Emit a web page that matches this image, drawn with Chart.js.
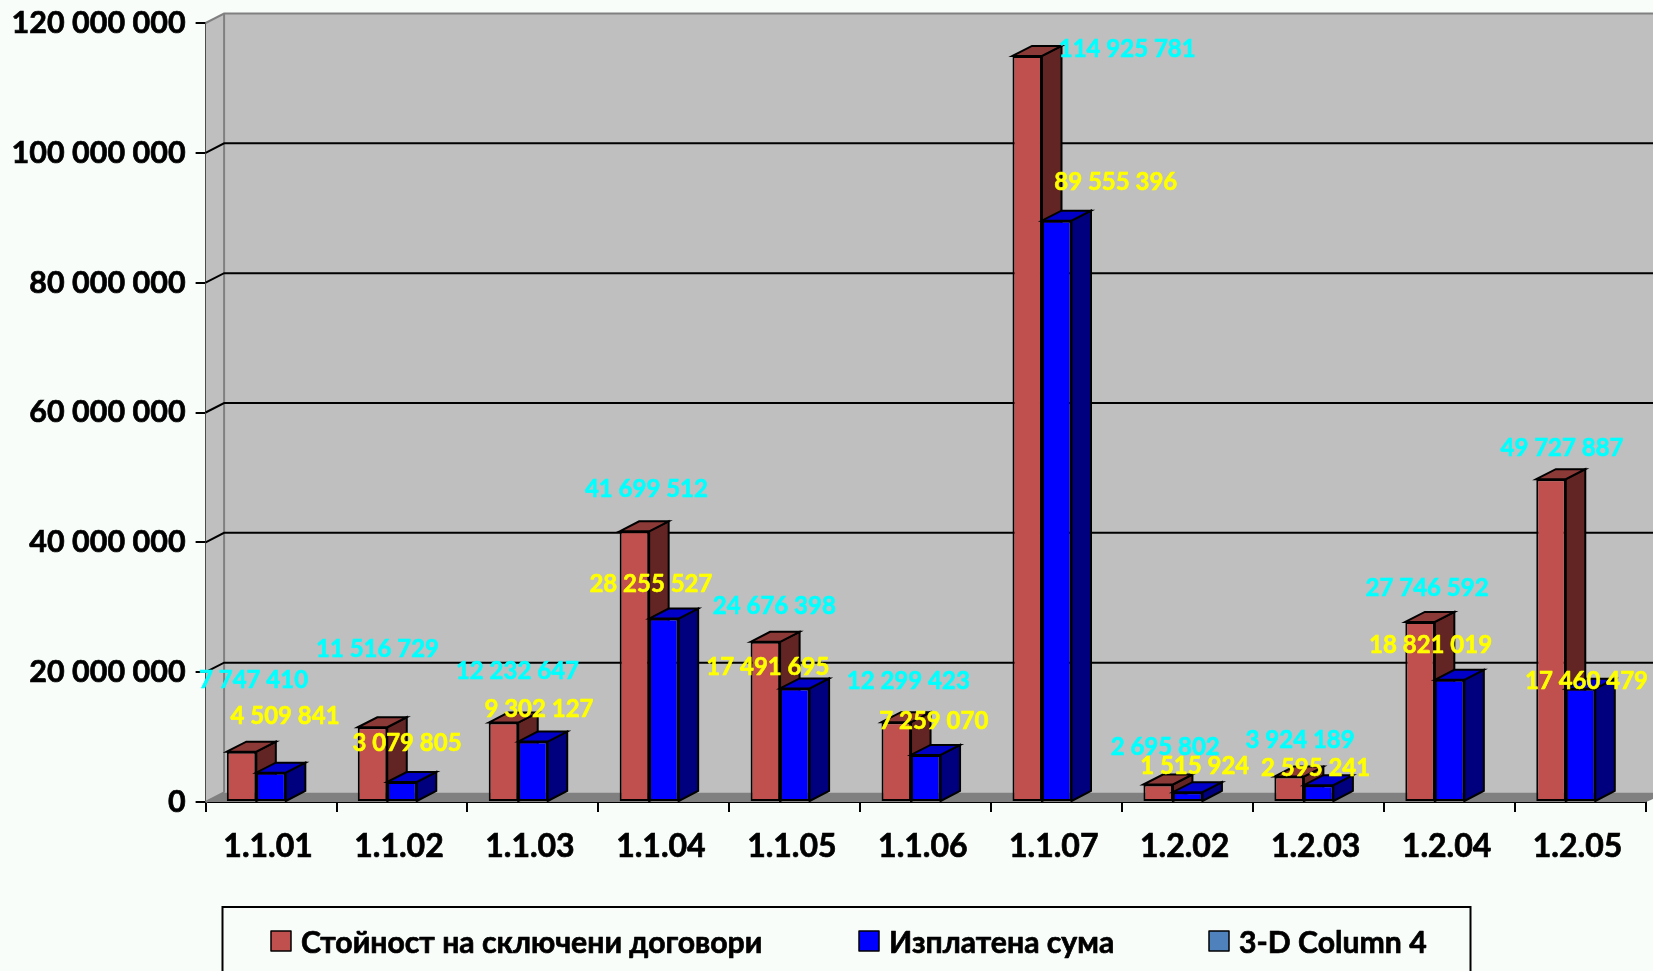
<!DOCTYPE html>
<html><head><meta charset="utf-8">
<style>html,body{margin:0;padding:0;background:#F8FDFA;overflow:hidden}canvas{display:block}</style>
<script src="https://cdn.jsdelivr.net/npm/chart.js@4"></script>
</head><body>
<div style="width:1653px;height:971px;position:relative"><canvas id="c"></canvas></div>
<script>
const categories = ['1.1.01','1.1.02','1.1.03','1.1.04','1.1.05','1.1.06','1.1.07','1.2.02','1.2.03','1.2.04','1.2.05'];
const contractValues = [7747410,11516729,12232647,41699512,24676398,12299423,114925781,2695802,3924189,27746592,49727887];
const paidValues = [4509841,3079805,9302127,28255527,17491695,7259070,89555396,1515924,2595241,18821019,17460479];
const column4Values = categories.map(() => null);
const seriesNames = ['Стойност на сключени договори','Изплатена сума','3-D Column 4'];
// hand-placed data label nudges from each bar's top (the source chart moved them by hand)
const contractLabelDx = [12,5,14,12,9,12,100,7,11,7,11];
const contractLabelDy = [-71,-78,-51,-42,-36,-41,-7,-37,-36,-34,-31];
const paidLabelDx = [14,5,6,-13,-27,8,59,7,-3,-19,6];
const paidLabelDy = [-56,-39,-32,-34,-21,-34,-38,-26,-17,-35,-7];

const FONT = 'Lato, Carlito, "Open Sans", sans-serif';
const wall = {dx:18.5, dy:9.5};
const barDepth = {dx:19.5, dy:10};
const sideColors = ['#632523','#00007F',null];
const topColors = ['#8C3A38','#0000C8',null];
const labelColors = ['#00FFFF','#FFFF00'];

const fmt = v => String(v).replace(/\B(?=(\d{3})+(?!\d))/g,' ');

const stage3d = {
  id:'stage3d',
  beforeDatasetsDraw(chart){
    const {ctx, chartArea:a, scales:{y}} = chart;
    const W = chart.width;
    ctx.save();
    // side wall and back wall
    ctx.fillStyle = '#BFBFBF';
    ctx.beginPath();
    ctx.moveTo(a.left,a.bottom); ctx.lineTo(a.left,a.top);
    ctx.lineTo(a.left+wall.dx,a.top-wall.dy); ctx.lineTo(W,a.top-wall.dy);
    ctx.lineTo(W,a.bottom-wall.dy); ctx.lineTo(a.left+wall.dx,a.bottom-wall.dy);
    ctx.closePath(); ctx.fill();
    // floor
    ctx.fillStyle = '#808080';
    ctx.beginPath();
    ctx.moveTo(a.left,a.bottom); ctx.lineTo(a.left+wall.dx,a.bottom-wall.dy);
    ctx.lineTo(W,a.bottom-wall.dy); ctx.lineTo(W,a.bottom-3); ctx.lineTo(a.right,a.bottom);
    ctx.closePath(); ctx.fill();
    // wall edges
    ctx.strokeStyle='#808080'; ctx.lineWidth=2;
    ctx.beginPath();
    ctx.moveTo(a.left,a.top); ctx.lineTo(a.left+wall.dx,a.top-wall.dy); ctx.lineTo(W,a.top-wall.dy);
    ctx.moveTo(a.left+wall.dx,a.top-wall.dy); ctx.lineTo(a.left+wall.dx,a.bottom-wall.dy);
    ctx.moveTo(a.left,a.bottom); ctx.lineTo(a.left+wall.dx,a.bottom-wall.dy);
    ctx.stroke();
    // gridlines follow the axis ticks, on the back wall
    ctx.strokeStyle='#000'; ctx.lineWidth=2;
    y.ticks.forEach(t=>{
      if(t.value===0||t.value===y.max) return;
      const p=y.getPixelForValue(t.value);
      ctx.beginPath();
      ctx.moveTo(a.left,p); ctx.lineTo(a.left+wall.dx,p-wall.dy); ctx.lineTo(W,p-wall.dy);
      ctx.stroke();
    });
    ctx.restore();
    // bars: series in order, so each later series' front sits over the earlier one's side face
    chart.data.datasets.forEach((d,i)=>{
      const meta=chart.getDatasetMeta(i);
      const side=sideColors[i], top=topColors[i];
      if(side){
        ctx.save();
        ctx.strokeStyle='#000'; ctx.lineWidth=2; ctx.lineJoin='miter';
        meta.data.forEach(b=>{
          const l=b.x-b.width/2, r=b.x+b.width/2, t=b.y, f=b.base, dx=barDepth.dx, dy=barDepth.dy;
          ctx.fillStyle=side;
          ctx.beginPath();
          ctx.moveTo(r,f); ctx.lineTo(r+dx,f-dy); ctx.lineTo(r+dx,t-dy); ctx.lineTo(r,t); ctx.closePath();
          ctx.fill(); ctx.stroke();
          ctx.fillStyle=top;
          ctx.beginPath();
          ctx.moveTo(l,t); ctx.lineTo(l+dx,t-dy); ctx.lineTo(r+dx,t-dy); ctx.lineTo(r,t); ctx.closePath();
          ctx.fill(); ctx.stroke();
        });
        ctx.restore();
      }
      meta.controller.draw();
    });
  },
  beforeDatasetDraw(){ return false; },
  afterDatasetsDraw(chart){
    const ctx=chart.ctx;
    ctx.save();
    ctx.font='bold 24px '+FONT;
    ctx.textAlign='center'; ctx.textBaseline='middle';
    ctx.lineWidth=0.6; ctx.lineJoin='round';
    [[contractValues,contractLabelDx,contractLabelDy],[paidValues,paidLabelDx,paidLabelDy]].forEach((s,ds)=>{
      ctx.fillStyle=labelColors[ds]; ctx.strokeStyle=labelColors[ds];
      chart.getDatasetMeta(ds).data.forEach((b,i)=>{
        ctx.strokeText(fmt(s[0][i]), b.x+s[1][i], b.y+s[2][i]);
        ctx.fillText(fmt(s[0][i]), b.x+s[1][i], b.y+s[2][i]);
      });
    });
    ctx.restore();
  },
  afterDraw(chart){
    const ctx=chart.ctx;
    ctx.save();
    // legend frame runs off the bottom of the picture
    ctx.strokeStyle='#000'; ctx.lineWidth=2;
    ctx.strokeRect(222.5,907,1248,120);
    const boxX=[271,859,1209];
    ctx.font='bold 30.2px '+FONT;
    ctx.textBaseline='middle'; ctx.textAlign='left';
    ctx.lineJoin='round';
    chart.data.datasets.forEach((d,i)=>{
      ctx.fillStyle=d.backgroundColor; ctx.lineWidth=1.5; ctx.strokeStyle='#000';
      ctx.fillRect(boxX[i],931,20,20); ctx.strokeRect(boxX[i],931,20,20);
      ctx.fillStyle='#000'; ctx.lineWidth=0.7;
      ctx.strokeText(d.label,boxX[i]+30,943);
      ctx.fillText(d.label,boxX[i]+30,943);
    });
    ctx.restore();
  }
};

const mkDs=(label,data,color)=>({label,data,backgroundColor:color,borderColor:'#000',borderWidth:2,borderSkipped:false,
  categoryPercentage:0.676,barPercentage:1});

new Chart(document.getElementById('c'),{
  type:'bar',
  data:{labels:categories,datasets:[
    mkDs(seriesNames[0],contractValues,'#C0504D'),
    mkDs(seriesNames[1],paidValues,'#0000FF'),
    mkDs(seriesNames[2],column4Values,'#4F81BD')
  ]},
  options:{
    responsive:true,maintainAspectRatio:false,animation:false,
    layout:{padding:{top:23,right:7,left:0,bottom:0}},
    plugins:{legend:{display:false},tooltip:{enabled:false}},
    scales:{
      x:{
        afterFit(s){s.height=169;s.paddingLeft=0;s.paddingRight=0;},
        grid:{drawOnChartArea:false,color:'#000',lineWidth:2,tickLength:10},
        border:{color:'#000',width:2},
        ticks:{color:'#000',font:{family:FONT,size:32,weight:'bold'},padding:15,labelOffset:-3,maxRotation:0,autoSkip:false,textStrokeColor:'#000',textStrokeWidth:0.7}
      },
      y:{
        min:0,max:120000000,
        afterFit(s){s.width=205.6;s.paddingTop=0;s.paddingBottom=0;},
        grid:{drawOnChartArea:false,color:'#000',lineWidth:2,tickLength:10},
        border:{color:'#000',width:2},
        ticks:{stepSize:20000000,color:'#000',font:{family:FONT,size:30.5,weight:'bold'},padding:10,callback:fmt,textStrokeColor:'#000',textStrokeWidth:0.7}
      }
    }
  },
  plugins:[stage3d]
});
</script>
</body></html>
